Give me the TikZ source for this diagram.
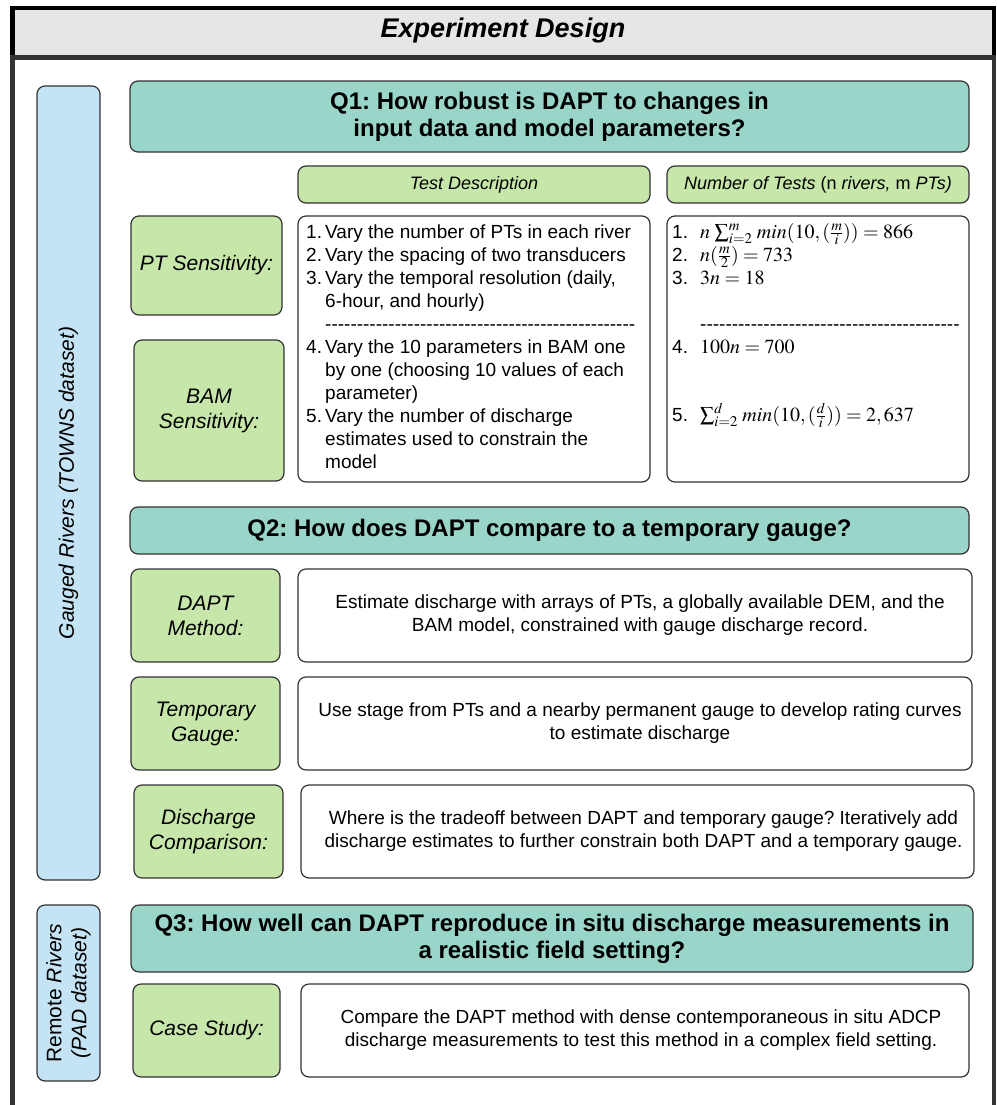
\documentclass[tikz,border=0pt]{standalone}
\usepackage{amsmath}
\usepackage{mathptmx}
\usepackage{fontspec}
\setmainfont{Liberation Sans}
\frenchspacing
\definecolor{hdr}{HTML}{E6E6E6}
\definecolor{qteal}{HTML}{9AD5CA}
\definecolor{lgreen}{HTML}{C6E6AA}
\definecolor{lblue}{HTML}{C4E4F5}
\definecolor{edge}{HTML}{333333}
\newcommand\hyrow[1]{\foreach \k in {1,...,#1}{\mbox{-}}}
\newcommand\mth[1]{{\fontsize{20}{23}\selectfont$#1$}}
\tikzset{
  box/.style={draw=edge, line width=1.2pt, rounded corners=8pt, inner sep=0pt, align=center},
  qbox/.style={box, fill=qteal, font=\fontsize{24}{27}\selectfont\bfseries},
  lbl/.style={box, fill=lgreen, font=\fontsize{21}{25}\selectfont\itshape},
  hbox/.style={box, fill=lgreen, font=\fontsize{18}{22}\selectfont\itshape},
  wbox/.style={box, fill=white, font=\fontsize{19}{23}\selectfont},
  side/.style={box, fill=lblue, rotate=90, font=\fontsize{21}{25}\selectfont\itshape},
  txt/.style={anchor=base west, inner sep=0pt, font=\fontsize{19}{23}\selectfont},
}
\begin{document}
\begin{tikzpicture}[x=1pt,y=-1pt]
\useasboundingbox (0,0) rectangle (996,1105);
% frame
\fill[black] (10,6) rectangle (996,10);
\fill[black] (10,6) rectangle (15,57);
\fill[black] (992,6) rectangle (996,57);
\fill[hdr] (15,10) rectangle (992,55);
\fill[edge] (10,55) rectangle (996,60);
\fill[edge] (10,60) rectangle (15,1105);
\fill[edge] (992,60) rectangle (996,1105);
\node[font=\fontsize{27}{30}\selectfont\bfseries\itshape] (title) at (503,31) {Experiment Design};

% side boxes
\node[side, minimum width=794pt, minimum height=63pt] (gauged) at (68.5,483) {Gauged Rivers (TOWNS dataset)};
\node[side, minimum width=176pt, minimum height=63pt] (remote) at (68.5,993) {\upshape Remote \itshape Rivers\\(PAD dataset)};

% Q1
\node[qbox, minimum width=839pt, minimum height=71pt] (q1) at (549.5,116.5) {Q1: How robust is DAPT to changes in\\input data and model parameters?};
\node[hbox, minimum width=352pt, minimum height=37pt] (tdh) at (474,184.5) {Test Description};
\node[hbox, minimum width=302pt, minimum height=37pt] (nth) at (818,184.5) {Number of Tests \upshape(n \itshape rivers, \upshape m \itshape PTs)};
\node[lbl, minimum width=151pt, minimum height=99pt] (pts) at (206.5,265.5) {PT Sensitivity:};
\node[lbl, minimum width=150pt, minimum height=141pt] (bams) at (209,410.5) {BAM\\Sensitivity:};
\node[wbox, minimum width=352pt, minimum height=266pt] (tdb) at (474,349) {};
\node[wbox, minimum width=302pt, minimum height=266pt] (ntb) at (818,349) {};

\node[txt] (d1) at (306,238) {\makebox[19pt][l]{1.}Vary the number of PTs in each river};
\node[txt] (d2) at (306,261) {\makebox[19pt][l]{2.}Vary the spacing of two transducers};
\node[txt] (d3) at (306,284) {\makebox[19pt][l]{3.}Vary the temporal resolution (daily,};
\node[txt] (d3b) at (325,307) {6-hour, and hourly)};
\node[txt] (dd) at (325,330) {\hyrow{49}};
\node[txt] (d4) at (306,353) {\makebox[19pt][l]{4.}Vary the 10 parameters in BAM one};
\node[txt] (d4b) at (325,376) {by one (choosing 10 values of each};
\node[txt] (d4c) at (325,399) {parameter)};
\node[txt] (d5) at (306,422) {\makebox[19pt][l]{5.}Vary the number of discharge};
\node[txt] (d5b) at (325,445) {estimates used to constrain the};
\node[txt] (d5c) at (325,468) {model};

\node[txt] (n1) at (672,238) {\makebox[28pt][l]{1.}\mth{n\,\sum_{i=2}^{m}\, min(10,(\tfrac{m}{i}))=866}};
\node[txt] (n2) at (672,261) {\makebox[28pt][l]{2.}\mth{n(\tfrac{m}{2})=733}};
\node[txt] (n3) at (672,284) {\makebox[28pt][l]{3.}\mth{3n=18}};
\node[txt] (nd) at (700,330) {\hyrow{41}};
\node[txt] (n4) at (672,353) {\makebox[28pt][l]{4.}\mth{100n=700}};
\node[txt] (n5) at (672,421) {\makebox[28pt][l]{5.}\mth{\sum_{i=2}^{d}\, min(10,(\tfrac{d}{i}))=2,637}};

% Q2
\node[qbox, minimum width=839pt, minimum height=47pt] (q2) at (549.5,530.5) {Q2: How does DAPT compare to a temporary gauge?};
\node[lbl, minimum width=149pt, minimum height=93pt] (dm) at (205.5,615.5) {DAPT\\Method:};
\node[wbox, minimum width=674pt, minimum height=93pt] (dmt) at (635,615.5) {\hspace*{10pt}Estimate discharge with arrays of PTs, a globally available DEM, and the\\\hspace*{10pt}BAM model, constrained with gauge discharge record.};
\node[lbl, minimum width=149pt, minimum height=93pt] (tg) at (205.5,723.5) {Temporary\\Gauge:};
\node[wbox, minimum width=674pt, minimum height=93pt] (tgt) at (635,723.5) {\hspace*{10pt}Use stage from PTs and a nearby permanent gauge to develop rating curves\\\hspace*{10pt}to estimate discharge};
\node[lbl, minimum width=149pt, minimum height=93pt] (dc) at (208.5,831.5) {Discharge\\Comparison:};
\node[wbox, minimum width=673pt, minimum height=93pt] (dct) at (637.5,831.5) {\hspace*{12pt}Where is the tradeoff between DAPT and temporary gauge? Iteratively add\\\hspace*{12pt}discharge estimates to further constrain both DAPT and a temporary gauge.};

% Q3
\node[qbox, minimum width=842pt, minimum height=67pt] (q3) at (552,938.5) {Q3: How well can DAPT reproduce in situ discharge measurements in\\a realistic field setting?};
\node[lbl, minimum width=147pt, minimum height=93pt] (cs) at (206.5,1030.5) {Case Study:};
\node[wbox, minimum width=668pt, minimum height=93pt] (cst) at (635,1030.5) {\hspace*{12pt}Compare the DAPT method with dense contemporaneous in situ ADCP\\\hspace*{12pt}discharge measurements to test this method in a complex field setting.};
\end{tikzpicture}
\end{document}
